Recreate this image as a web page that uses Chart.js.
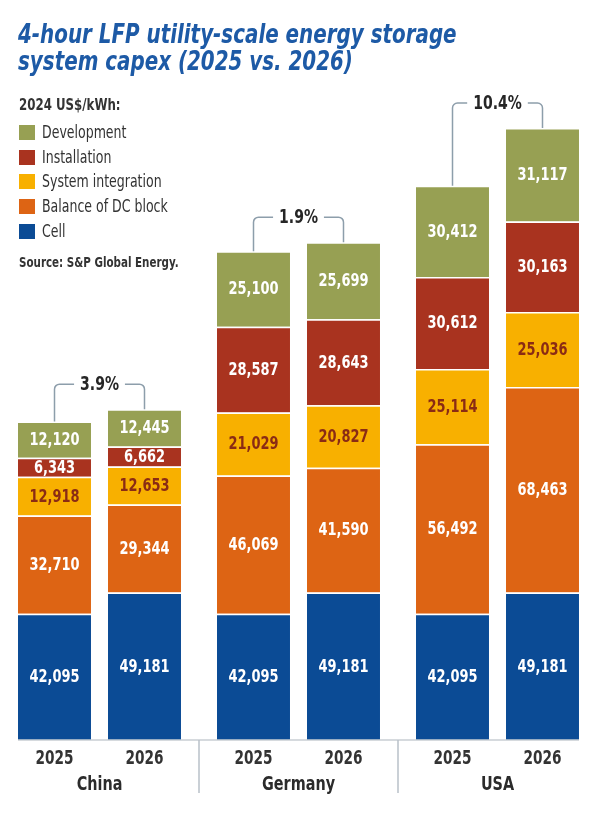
<!DOCTYPE html>
<html>
<head>
<meta charset="utf-8">
<script src="https://cdn.jsdelivr.net/npm/chart.js@4.4.1/dist/chart.umd.min.js"></script>
<style>
  html, body { margin: 0; padding: 0; background: #fff; }
  body { width: 600px; height: 819px; position: relative; overflow: hidden;
         font-family: 'DejaVu Sans Condensed', 'Liberation Sans', sans-serif; }
  canvas { position: absolute; left: 0; top: 0; }
  h1 { position: absolute; left: 18px; top: 21px; margin: 0; font-size: 26px; line-height: 27px;
       font-weight: bold; font-style: italic; color: #1d5aa6; white-space: nowrap;
       transform: scaleX(0.85); transform-origin: left top; }
  #legend { position: absolute; left: 19px; top: 95px; color: #333; }
  #legend .head { font-weight: bold; font-size: 16px; height: 20px; line-height: 20px; margin-bottom: 5px; }
  #legend .item { height: 24.7px; line-height: 24.7px; font-size: 17px; white-space: nowrap; }
  #legend .sw { display: inline-block; width: 16px; height: 15px; vertical-align: -2px; margin-right: 7px; }
  #legend .t, #legend .head span, #legend .src span { display: inline-block; transform: scaleX(0.82); transform-origin: left center; }
  #legend .src { font-weight: bold; font-size: 14px; margin-top: 11px; color: #333; white-space: nowrap; }
</style>
</head>
<body>
<canvas id="chart" width="600" height="819"></canvas>
<h1>4-hour LFP utility-scale energy storage<br>system capex (2025 vs. 2026)</h1>
<div id="legend"></div>
<script>
const FONT = "'DejaVu Sans Condensed', 'Liberation Sans', sans-serif";

// Dados
const countries = ['China', 'Germany', 'USA'];
const years = ['2025', '2026'];
// ordem das barras: China 2025, China 2026, Germany 2025, Germany 2026, USA 2025, USA 2026
const cell = [42095, 49181, 42095, 49181, 42095, 49181];
const balanceOfDC = [32710, 29344, 46069, 41590, 56492, 68463];
const systemIntegration = [12918, 12653, 21029, 20827, 25114, 25036];
const installation = [6343, 6662, 28587, 28643, 30612, 30163];
const development = [12120, 12445, 25100, 25699, 30412, 31117];
const changes = ['3.9%', '1.9%', '10.4%'];

const components = [
  { label: 'Cell', values: cell, color: '#0b4b95', text: '#ffffff' },
  { label: 'Balance of DC block', values: balanceOfDC, color: '#dd6414', text: '#ffffff' },
  { label: 'System integration', values: systemIntegration, color: '#f8b000', text: '#8a2b14' },
  { label: 'Installation', values: installation, color: '#a9331f', text: '#ffffff' },
  { label: 'Development', values: development, color: '#97a053', text: '#ffffff' },
];

// Legenda em HTML
const legend = document.getElementById('legend');
let html = '<div class="head"><span>2024 US$/kWh:</span></div>';
components.slice().reverse().forEach(c => {
  html += '<div class="item"><span class="sw" style="background:' + c.color + '"></span><span class="t">' + c.label + '</span></div>';
});
html += '<div class="src"><span>Source: S&amp;P Global Energy.</span></div>';
legend.innerHTML = html;

// Datasets: um por componente e por ano (stack)
const datasets = [];
components.forEach(c => {
  years.forEach((yr, j) => {
    datasets.push({
      label: c.label,
      stack: yr,
      data: countries.map((_, i) => c.values[i * 2 + j]),
      backgroundColor: c.color,
      borderColor: '#ffffff',
      borderWidth: { top: 1.5, right: 0, bottom: 0, left: 0 },
      borderSkipped: false,
      labelColor: c.text,
    });
  });
});

// texto estreito (a fonte original é condensada)
function narrowText(ctx, text, x, y, sx) {
  ctx.save();
  ctx.translate(x, y);
  ctx.scale(sx, 1);
  ctx.fillText(text, 0, 0);
  ctx.restore();
}

// Plugin: rótulos, anos, países, linha base, separadores e colchetes de variação
const overlay = {
  id: 'overlay',
  afterDatasetsDraw(chart) {
    const ctx = chart.ctx;
    const area = chart.chartArea;
    const xs = chart.scales.x;
    ctx.save();
    ctx.textAlign = 'center';
    ctx.textBaseline = 'middle';

    // valores dentro dos segmentos
    ctx.font = 'bold 17px ' + FONT;
    chart.data.datasets.forEach((ds, d) => {
      const meta = chart.getDatasetMeta(d);
      meta.data.forEach((bar, i) => {
        ctx.fillStyle = ds.labelColor;
        narrowText(ctx, ds.data[i].toLocaleString('en-US'), bar.x, (bar.y + bar.base) / 2 + 1, 0.85);
      });
    });

    // topo de cada pilha
    const tops = countries.map((_, i) => years.map(yr => {
      let x = 0, y = Infinity, l = Infinity, r = -Infinity;
      chart.data.datasets.forEach((ds, d) => {
        if (ds.stack !== yr) return;
        const bar = chart.getDatasetMeta(d).data[i];
        x = bar.x;
        y = Math.min(y, bar.y);
        l = Math.min(l, bar.x - bar.width / 2);
        r = Math.max(r, bar.x + bar.width / 2);
      });
      return { x, y, l, r };
    }));

    // linha base
    ctx.strokeStyle = '#c9ced3';
    ctx.lineWidth = 1.5;
    ctx.beginPath();
    ctx.moveTo(tops[0][0].l, area.bottom);
    ctx.lineTo(tops[countries.length - 1][1].r, area.bottom);
    ctx.stroke();

    // separadores entre países
    ctx.strokeStyle = '#b9c1c8';
    for (let i = 0; i < countries.length - 1; i++) {
      const sx = (xs.getPixelForValue(i) + xs.getPixelForValue(i + 1)) / 2;
      ctx.beginPath();
      ctx.moveTo(sx, area.bottom);
      ctx.lineTo(sx, area.bottom + 53);
      ctx.stroke();
    }

    // anos
    ctx.fillStyle = '#333333';
    ctx.font = 'bold 19px ' + FONT;
    tops.forEach(pair => pair.forEach((t, j) => {
      narrowText(ctx, years[j], t.x, area.bottom + 19, 0.8);
    }));

    // países
    ctx.fillStyle = '#2b2b2b';
    ctx.font = 'bold 20px ' + FONT;
    countries.forEach((c, i) => {
      narrowText(ctx, c, xs.getPixelForValue(i), area.bottom + 45, 0.8);
    });

    // colchetes
    tops.forEach((pair, i) => {
      const a = pair[0], b = pair[1];
      const level = Math.min(a.y, b.y) - 25;
      const rad = 5;
      ctx.font = 'bold 19px ' + FONT;
      const w = ctx.measureText(changes[i]).width * 0.82;
      const mid = (a.x + b.x) / 2;
      ctx.strokeStyle = '#8d9eab';
      ctx.lineWidth = 1.5;
      ctx.beginPath();
      ctx.moveTo(a.x, a.y);
      ctx.lineTo(a.x, level + rad);
      ctx.arcTo(a.x, level, a.x + rad, level, rad);
      ctx.lineTo(mid - w / 2 - 6, level);
      ctx.moveTo(mid + w / 2 + 6, level);
      ctx.lineTo(b.x - rad, level);
      ctx.arcTo(b.x, level, b.x, level + rad, rad);
      ctx.lineTo(b.x, b.y);
      ctx.stroke();
      ctx.fillStyle = '#262626';
      narrowText(ctx, changes[i], mid, level + 1, 0.82);
    });
    ctx.restore();
  }
};

const config = {
  type: 'bar',
  data: { labels: countries, datasets: datasets },
  options: {
    responsive: false,
    animation: false,
    categoryPercentage: 0.9045,
    barPercentage: 0.811,
    layout: { padding: { top: 110, bottom: 79, left: 0, right: 3 } },
    plugins: {
      legend: { display: false },
      title: { display: false },
      tooltip: { enabled: false },
    },
    scales: {
      x: {
        stacked: true,
        display: false,
      },
      y: {
        stacked: true,
        display: false,
        min: 0,
        max: 210000,
      },
    },
  },
  plugins: [overlay],
};

const myChart = new Chart(document.getElementById('chart'), config);
</script>
</body>
</html>
